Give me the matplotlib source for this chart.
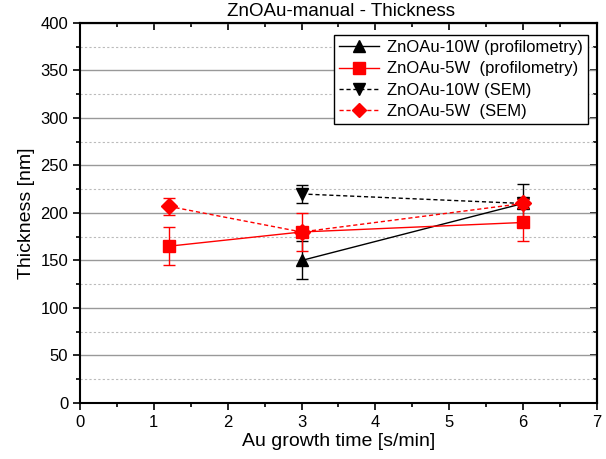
import matplotlib

matplotlib.use("Agg")
import matplotlib.pyplot as plt
from matplotlib.lines import Line2D
from matplotlib.ticker import MultipleLocator, NullFormatter

plt.rcParams["font.family"] = ["Liberation Sans", "DejaVu Sans"]

# growth time [s/min] and thickness [nm] per series
t_10w_prof = [3.0, 6.0]
d_10w_prof = [150, 210]
e_10w_prof = [20, 20]

t_5w_prof = [1.2, 3.0, 6.0]
d_5w_prof = [165, 180, 190]
e_5w_prof = [20, 20, 20]

t_10w_sem = [3.0, 6.0]
d_10w_sem = [220, 210]
e_10w_sem = [9, 5]

t_5w_sem = [1.2, 3.0, 6.0]
d_5w_sem = [207, 180, 210]
e_5w_sem = [9, 5, 5]

labels = [
    "ZnOAu-10W (profilometry)",
    "ZnOAu-5W  (profilometry)",
    "ZnOAu-10W (SEM)",
    "ZnOAu-5W  (SEM)",
]

fig = plt.figure(figsize=(6.06, 4.59), dpi=100)
ax = fig.add_axes([0.132, 0.122, 0.853, 0.828])

dashed = (0, (3, 2))
styles = [
    dict(color="black", marker="^", linestyle="-"),
    dict(color="red", marker="s", linestyle="-"),
    dict(color="black", marker="v", linestyle=dashed),
    dict(color="red", marker="D", linestyle=dashed),
]
series = [
    (t_10w_prof, d_10w_prof, e_10w_prof),
    (t_5w_prof, d_5w_prof, e_5w_prof),
    (t_10w_sem, d_10w_sem, e_10w_sem),
    (t_5w_sem, d_5w_sem, e_5w_sem),
]
sizes = [9, 9, 9, 8]

handles = []
for i, ((t, d, e), st) in enumerate(zip(series, styles)):
    ax.errorbar(t, d, yerr=e, capsize=4, elinewidth=1.0, capthick=1.0,
                linewidth=1.0, markersize=sizes[i], zorder=3 + i, **st)
    handles.append(Line2D([], [], linewidth=1.0, markersize=sizes[i] - 1, **st))

ax.set_xlim(0, 7)
ax.set_ylim(0, 400)
ax.xaxis.set_major_locator(MultipleLocator(1))
ax.xaxis.set_minor_locator(MultipleLocator(0.5))
ax.yaxis.set_major_locator(MultipleLocator(50))
ax.yaxis.set_minor_locator(MultipleLocator(25))

ax.grid(True, axis="y", which="major", color="#999999", linewidth=1.0)
ax.grid(True, axis="y", which="minor", color="#bbbbbb", linewidth=0.8, linestyle=(0, (2, 2)))
ax.set_axisbelow(True)

ax.tick_params(which="both", direction="out", labelsize=12, width=1.2)
ax.tick_params(which="major", length=5)
ax.tick_params(which="minor", length=3)
for spine in ax.spines.values():
    spine.set_linewidth(1.5)

# inward ticks on the top and right frame
top = ax.secondary_xaxis("top")
right = ax.secondary_yaxis("right")
for sec, axis in ((top, top.xaxis), (right, right.yaxis)):
    axis.set_major_locator(MultipleLocator(1 if sec is top else 50))
    axis.set_minor_locator(MultipleLocator(0.5 if sec is top else 25))
    axis.set_major_formatter(NullFormatter())
    sec.tick_params(which="both", direction="in", width=1.2)
    sec.tick_params(which="major", length=5)
    sec.tick_params(which="minor", length=3)
    for spine in sec.spines.values():
        spine.set_linewidth(1.5)

ax.set_xlabel("Au growth time [s/min]", fontsize=14, labelpad=2)
ax.set_ylabel("Thickness [nm]", fontsize=14)
fig.text(0.563, 0.974, "ZnOAu-manual - Thickness", fontsize=13.5, ha="center", va="center")

leg = ax.legend(handles, labels, loc="upper right", bbox_to_anchor=(0.983, 0.968),
                borderaxespad=0.0, fontsize=12, fancybox=False, framealpha=1.0,
                edgecolor="black", handlelength=2.4, borderpad=0.3,
                labelspacing=0.38, handletextpad=0.5)
leg.get_frame().set_linewidth(1.0)

fig.savefig("out.png", dpi=100)
